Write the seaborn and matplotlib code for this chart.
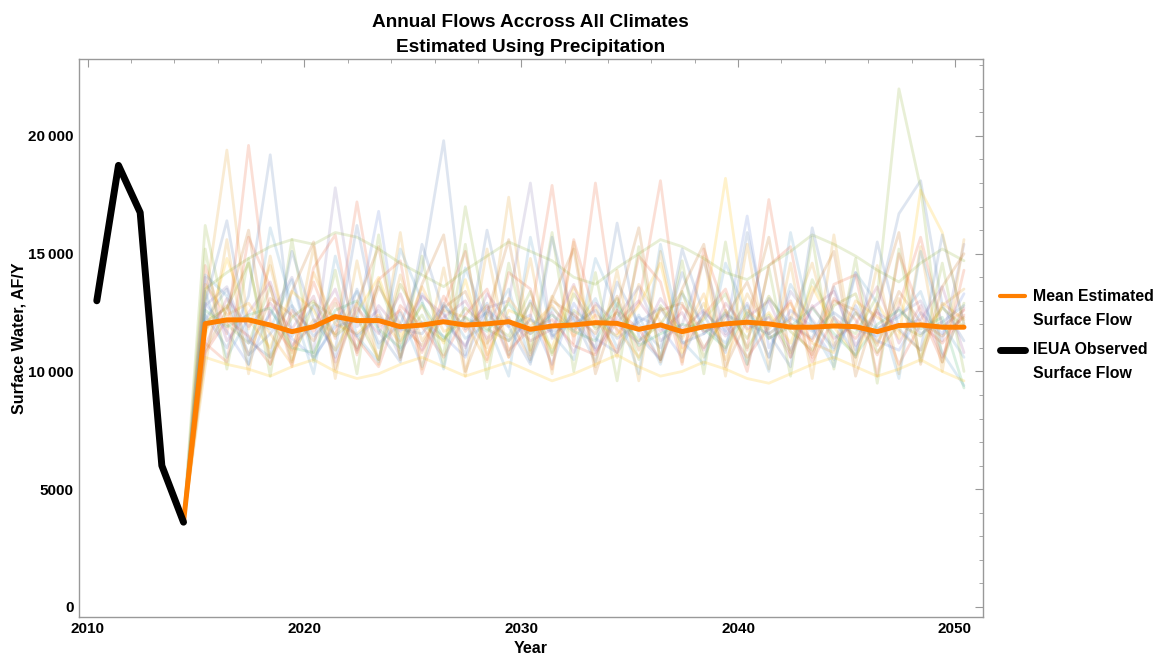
import numpy as np
import pandas as pd
import matplotlib
matplotlib.use("Agg")
import matplotlib.pyplot as plt
from matplotlib.ticker import FuncFormatter, MultipleLocator
from matplotlib.lines import Line2D
from matplotlib.legend_handler import HandlerLine2D
import seaborn as sns

# observed record (IEUA)
obs_years = [2010, 2011, 2012, 2013, 2014]
obs_flow = [13000, 18750, 16750, 6000, 3600]

# estimated years, every climate run starts from the last observed value
est_years = list(range(2014, 2051))
start_flow = 3600

# mean of all estimates, 2014..2050
mean_flow = [3600,
             12030, 12190, 12190, 11970, 11690, 11900,
             12330, 12160, 12160, 11900, 11970, 12110,
             11970, 12020, 12110, 11790, 11930, 11975,
             12070, 12040, 11790, 11975, 11690, 11900,
             12020, 12090, 12020, 11880, 11880, 11930,
             11900, 11690, 11950, 11975, 11880, 11880]

# a sample of the individual climate runs, 2015..2050
run_01 = [12400, 11000, 13200, 19200, 11500, 12800, 10600, 13500, 11200, 12000, 14300, 19800,
          11800, 12900, 10700, 13000, 11500, 12300, 10400, 13800, 12000, 11000, 14200, 11600,
          12500, 10300, 13100, 12000, 11400, 13600, 10900, 12700, 16700, 18100, 12800, 11300]
run_02 = [13000, 19400, 11800, 14500, 10800, 12200, 11600, 12900, 10500, 14100, 11300, 12600,
          12300, 11000, 17400, 10900, 13200, 11700, 12800, 10600, 13700, 12100, 11400, 12900,
          10900, 13300, 11600, 12200, 14600, 11100, 12500, 11200, 13100, 10600, 12800, 13500]
run_03 = [16200, 12000, 11200, 13600, 10400, 12900, 12300, 11000, 13800, 11300, 12400, 10700,
          17000, 12100, 11500, 13400, 10800, 12600, 11900, 13100, 10500, 12800, 11700, 12200,
          13300, 11000, 12400, 10800, 13900, 12100, 11600, 13200, 22000, 17800, 10400, 12900]
run_04 = [14500, 11600, 19600, 12100, 10900, 13800, 11400, 17200, 11900, 12600, 10800, 13200,
          11700, 12800, 10600, 12300, 17900, 11200, 18000, 11600, 12900, 18100, 11000, 12400,
          13500, 10900, 17300, 12000, 11300, 13100, 12200, 10700, 12800, 15700, 11900, 12600]
run_05 = [12800, 13600, 11200, 12400, 14000, 10800, 17800, 11900, 12600, 10600, 13300, 12100,
          11100, 12700, 13000, 18000, 11400, 12500, 10900, 12300, 13600, 11300, 12000, 14700,
          11600, 12900, 10600, 13400, 12200, 11000, 14200, 11800, 12400, 13000, 11300, 15400]
run_06 = [11800, 12800, 10700, 13100, 12400, 11300, 12900, 10800, 13600, 12000, 11100, 12700,
          13400, 11200, 12300, 10500, 13000, 12400, 11600, 13200, 10900, 12600, 12900, 11000,
          12300, 13800, 11400, 12000, 10700, 13000, 12600, 11100, 13400, 12100, 11500, 12300]
run_07 = [13400, 10600, 12300, 11800, 13900, 10500, 12100, 13400, 11000, 12500, 10200, 12900,
          11400, 12000, 13500, 10400, 12700, 11800, 13100, 11000, 12400, 10300, 13300, 12000,
          11200, 12800, 10600, 13700, 12100, 10900, 12500, 11800, 12300, 13400, 10800, 9400]
run_08 = [11500, 14800, 12200, 11000, 13400, 12600, 10900, 12500, 14000, 11500, 12800, 11200,
          13900, 10700, 12600, 12200, 11000, 13600, 12100, 11500, 12800, 14600, 10800, 12300,
          18200, 11700, 12500, 11200, 13600, 11900, 10600, 12900, 11400, 17700, 15900, 12000]
run_09 = [14000, 11300, 12500, 13800, 11100, 12000, 13500, 10900, 12800, 11700, 13200, 12400,
          11000, 13300, 12100, 11600, 12500, 10800, 12900, 12000, 11200, 13100, 11800, 12600,
          11500, 12300, 13000, 10900, 12700, 13400, 11100, 12500, 11900, 12200, 13600, 10800]
run_10 = [12100, 12700, 14600, 10600, 12300, 13000, 11500, 12300, 10500, 13700, 12000, 11300,
          12700, 11800, 11300, 12900, 10700, 13300, 11800, 12500, 11300, 12000, 13400, 10600,
          12600, 11400, 13200, 11700, 10900, 12800, 13300, 10800, 12000, 11500, 12700, 11900]
run_11 = [10800, 12200, 11500, 10300, 12600, 11700, 13100, 11400, 10200, 12800, 11900, 10600,
          12400, 13500, 10900, 11800, 12200, 11100, 10700, 12600, 11800, 10500, 12800, 11700,
          12000, 10600, 11900, 13000, 10400, 12300, 11400, 12600, 10300, 12000, 11200, 12400]
run_12 = [12900, 11700, 10300, 12600, 11400, 10600, 11900, 12200, 16800, 10900, 12100, 11500,
          10600, 12600, 11900, 12400, 10300, 12900, 11400, 10800, 12300, 11900, 10600, 12500,
          11700, 16600, 11000, 12600, 11900, 10500, 12800, 11300, 10900, 12500, 11600, 13300]
run_13 = [13700, 12400, 12900, 11600, 10300, 14200, 12000, 11600, 12400, 11200, 13600, 11700,
          12100, 10400, 13100, 11900, 12800, 11500, 12400, 11800, 10600, 12700, 11500, 13300,
          10500, 12600, 11800, 12900, 11200, 10800, 13000, 12300, 11700, 10900, 12900, 12200]
run_14 = [11100, 13100, 11900, 12900, 11800, 13200, 10400, 12700, 11600, 13300, 10900, 12300,
          13000, 11400, 12200, 11300, 11800, 13700, 10800, 12100, 13000, 11700, 12500, 10900,
          12900, 11800, 12300, 10600, 12800, 11400, 12000, 13600, 11200, 12800, 10600, 12700]
run_15 = [12600, 11900, 12400, 12700, 11000, 10800, 12600, 13000, 11800, 11000, 12900, 11400,
          12300, 11700, 12900, 11600, 12400, 11700, 11300, 12900, 11100, 11600, 12000, 11800,
          11000, 12500, 11400, 11900, 12700, 11600, 10700, 12000, 12600, 11800, 12300, 9300]
run_16 = [12200, 13500, 10700, 11600, 12800, 11500, 12400, 11500, 12300, 11800, 11600, 12800,
          11900, 12500, 11300, 12200, 11700, 12000, 12600, 11400, 12100, 12700, 11200, 11600,
          12400, 12000, 11600, 12300, 11700, 12500, 11800, 11500, 12700, 11600, 12100, 12800]
run_17 = [15200, 10100, 14800, 9800, 15600, 10400, 14300, 9900, 15800, 10600, 14900, 10200,
          15400, 9700, 14600, 10800, 15900, 10000, 14200, 9600, 15300, 10500, 14700, 9900,
          15500, 10300, 14400, 9800, 15700, 10100, 14800, 9500, 15200, 10400, 14600, 10000]
run_18 = [10200, 15600, 9900, 14900, 10500, 15300, 9700, 14700, 10300, 15900, 10100, 14400,
          9800, 15200, 10600, 14800, 9900, 15500, 10200, 14300, 9600, 15100, 10400, 14900,
          9800, 15400, 10100, 14600, 9700, 15800, 10300, 14500, 9900, 15300, 10000, 15600]
run_19 = [14100, 13200, 10300, 16100, 12800, 9900, 14900, 11500, 10400, 15200, 13000, 10100,
          14400, 12100, 9800, 15700, 11600, 10500, 14800, 12700, 9900, 15400, 11300, 10300,
          14600, 12400, 10000, 15900, 11800, 10200, 14200, 12900, 9700, 15100, 12000, 10600]
run_20 = [11200, 10400, 15700, 13600, 10200, 14400, 15800, 10700, 13900, 14700, 9900, 12800,
          15100, 10500, 14200, 13500, 10100, 15600, 12300, 10800, 14900, 13800, 10300, 15200,
          12600, 10000, 14500, 15300, 10600, 13700, 14100, 9800, 15000, 12500, 10400, 14300]
run_21 = [13500, 14200, 14800, 15300, 15600, 15400, 15900, 15700, 15200, 14600, 14100, 13600,
          14300, 14900, 15500, 15100, 14700, 14000, 13700, 14400, 15000, 15600, 15300, 14800,
          14200, 13900, 14500, 15100, 15800, 15400, 14900, 14300, 13800, 14600, 15200, 14700]
run_22 = [10600, 10300, 10100, 9800, 10200, 10500, 10000, 9700, 9900, 10300, 10600, 10200,
          9800, 10100, 10400, 10000, 9600, 9900, 10300, 10700, 10200, 9800, 10000, 10400,
          10100, 9700, 9500, 9900, 10300, 10600, 10200, 9800, 10100, 10500, 10000, 9600]
run_23 = [12900, 16400, 11300, 10600, 15100, 12200, 10900, 16200, 11700, 10400, 15400, 12500,
          10700, 16000, 11900, 10300, 15700, 12100, 11000, 16300, 11500, 10500, 15200, 12400,
          10800, 15900, 11600, 10200, 16100, 12300, 10600, 15500, 11800, 10900, 15800, 12000]
run_24 = [10900, 12600, 16000, 10300, 13400, 15500, 10100, 12900, 15300, 10500, 13700, 15800,
          10000, 12400, 15600, 10700, 13100, 15200, 9900, 12700, 16100, 10400, 13500, 15400,
          10200, 12200, 15700, 10600, 13300, 15100, 9800, 12800, 15900, 10300, 13600, 15000]

runs = [run_01, run_02, run_03, run_04, run_05, run_06, run_07, run_08,
        run_09, run_10, run_11, run_12, run_13, run_14, run_15, run_16,
        run_17, run_18, run_19, run_20, run_21, run_22, run_23, run_24]

# Mathematica default plot colours
run_colors = ["#5E81B5", "#E19C24", "#8FB032", "#EB6235", "#8778B3", "#C56E1A",
              "#5D9EC7", "#FFBF00", "#A5609D", "#929600", "#E95536", "#6685D9",
              "#F89F13", "#BC5B80", "#47B66D", "#5E81B5", "#8FB032", "#E19C24",
              "#5D9EC7", "#EB6235", "#8FB032", "#FFBF00", "#5E81B5", "#C56E1A"]

# values are plotted mid-year
x_shift = 0.42

rows = []
for i, r in enumerate(runs):
    for yr, v in zip(est_years, [start_flow] + r):
        rows.append({"Year": yr + x_shift, "Flow": v, "Run": f"run {i + 1}"})
runs_df = pd.DataFrame(rows)
mean_df = pd.DataFrame({"Year": np.array(est_years) + x_shift, "Flow": mean_flow})
obs_df = pd.DataFrame({"Year": np.array(obs_years) + x_shift, "Flow": obs_flow})


class FirstLineHandler(HandlerLine2D):
    """legend line next to the first row of a two-row label"""
    def create_artists(self, legend, orig_handle, xdescent, ydescent, width, height,
                       fontsize, trans):
        artists = super().create_artists(legend, orig_handle, xdescent, ydescent,
                                         width, height, fontsize, trans)
        for a in artists:
            a.set_ydata(np.asarray(a.get_ydata()) + 0.8 * fontsize)
        return artists


sns.set_style("white")
plt.rcParams["font.family"] = ["Liberation Sans", "DejaVu Sans"]
plt.rcParams["font.weight"] = "bold"
plt.rcParams["text.color"] = "black"
plt.rcParams["axes.labelcolor"] = "black"

fig = plt.figure(figsize=(11.59, 6.62), dpi=100)
ax = fig.add_axes([0.068, 0.068, 0.78, 0.843])

sns.lineplot(data=runs_df, x="Year", y="Flow", hue="Run", palette=run_colors,
             legend=False, alpha=0.2, lw=2.0, ax=ax)
sns.lineplot(data=mean_df, x="Year", y="Flow", color="#FF7F00", lw=3.6, ax=ax)
sns.lineplot(data=obs_df, x="Year", y="Flow", color="black", lw=5.0, ax=ax)

ax.set_xlim(2009.59, 2051.29)
ax.set_ylim(-425, 23270)
ax.xaxis.set_major_locator(MultipleLocator(10))
ax.xaxis.set_minor_locator(MultipleLocator(2))
ax.yaxis.set_major_locator(MultipleLocator(5000))
ax.yaxis.set_minor_locator(MultipleLocator(1000))


def thin_thousands(v, pos):
    v = int(round(v))
    if v >= 10000:
        return f"{v // 1000}\u2009{v % 1000:03d}"
    return str(v)


ax.yaxis.set_major_formatter(FuncFormatter(thin_thousands))
ax.tick_params(axis="both", which="both", direction="in", colors="#999999",
               top=True, right=True, labelcolor="black", labelsize=11)
ax.tick_params(which="major", length=6, width=0.8)
ax.tick_params(which="minor", length=3, width=0.6)
for lab in ax.get_xticklabels() + ax.get_yticklabels():
    lab.set_fontweight("bold")
for s in ax.spines.values():
    s.set_color("#999999")
    s.set_linewidth(1.0)

ax.set_xlabel("Year", fontsize=11.5, fontweight="bold", labelpad=4)
ax.set_ylabel("Surface Water, AF/Y", fontsize=11.5, fontweight="bold", labelpad=1.5)
ax.set_title("Annual Flows Accross All Climates\nEstimated Using Precipitation",
             fontsize=13.7, fontweight="bold", pad=5, linespacing=1.6)

handles = [Line2D([], [], color="#FF7F00", lw=3),
           Line2D([], [], color="black", lw=5)]
leg = ax.legend(handles, ["Mean Estimated\nSurface Flow", "IEUA Observed\nSurface Flow"],
                loc="center left", bbox_to_anchor=(1.003, 0.505), frameon=False,
                prop={"size": 11.4, "weight": "bold"}, handlelength=1.6, labelspacing=0.9,
                handletextpad=0.5, handler_map={Line2D: FirstLineHandler()})
for t in leg.get_texts():
    t.set_linespacing(1.75)

fig.savefig("out.png", dpi=100)
